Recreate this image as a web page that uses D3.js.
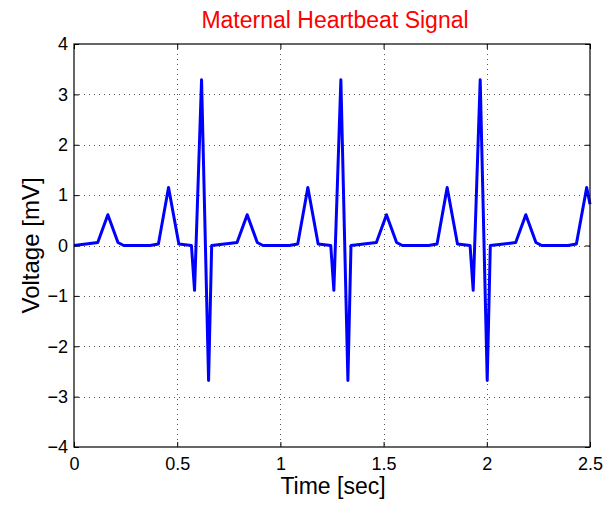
<!DOCTYPE html>
<html>
<head>
<meta charset="utf-8">
<script src="https://cdn.jsdelivr.net/npm/d3@7"></script>
<style>
  html, body { margin: 0; padding: 0; background: #fff; }
  svg { display: block; font-family: "Liberation Sans", Arial, sans-serif; }
</style>
</head>
<body>
<svg id="chart" width="605" height="505"></svg>
<script>
// vertices of the trace (seconds, mV)
const timeSec = [
  0, 0.115, 0.164, 0.213, 0.241, 0.291, 0.368,
  0.409, 0.458, 0.508, 0.569, 0.584, 0.618, 0.652, 0.667, 0.790, 0.839, 0.888, 0.916, 0.966, 1.043,
  1.084, 1.133, 1.183, 1.244, 1.259, 1.293, 1.327, 1.342, 1.465, 1.514, 1.563, 1.591, 1.641, 1.718,
  1.759, 1.808, 1.858, 1.919, 1.934, 1.968, 2.002, 2.017, 2.140, 2.189, 2.238, 2.266, 2.316, 2.393,
  2.434, 2.484, 2.5
];
const voltage = [
  0, 0.06, 0.61, 0.06, 0, 0, 0,
  0.03, 1.15, 0.03, 0, -0.89, 3.29, -2.68, 0, 0.06, 0.61, 0.06, 0, 0, 0,
  0.03, 1.15, 0.03, 0, -0.89, 3.29, -2.68, 0, 0.06, 0.61, 0.06, 0, 0, 0,
  0.03, 1.15, 0.03, 0, -0.89, 3.29, -2.68, 0, 0.06, 0.61, 0.06, 0, 0, 0,
  0.03, 1.15, 0.82
];
const xTicks = [0, 0.5, 1, 1.5, 2, 2.5];
const yTicks = [-4, -3, -2, -1, 0, 1, 2, 3, 4];

const margin = { top: 44, right: 15, bottom: 58, left: 74 };
const width = 605, height = 505;

const svg = d3.select('#chart');

const x = d3.scaleLinear().domain([0, 2.5]).range([margin.left, width - margin.right]);
const y = d3.scaleLinear().domain([-4, 4]).range([height - margin.bottom, margin.top]);

const fmt = v => String(v).replace('-', '\u2212');

// grid
const grid = svg.append('g')
  .attr('stroke', '#555')
  .attr('stroke-width', 1)
  .attr('stroke-dasharray', '1,4');
grid.selectAll('.gx').data(xTicks.slice(1, -1)).join('line')
  .attr('x1', d => Math.round(x(d)) + 0.5).attr('x2', d => Math.round(x(d)) + 0.5)
  .attr('y1', y(4)).attr('y2', y(-4));
grid.selectAll('.gy').data(yTicks.slice(1, -1)).join('line')
  .attr('y1', d => Math.round(y(d)) + 0.5).attr('y2', d => Math.round(y(d)) + 0.5)
  .attr('x1', x(0)).attr('x2', x(2.5));

// signal
const pts = timeSec.map((t, i) => [t, voltage[i]]);
svg.append('path')
  .datum(pts)
  .attr('fill', 'none')
  .attr('stroke', '#0000ff')
  .attr('stroke-width', 3)
  .attr('stroke-linejoin', 'round')
  .attr('d', d3.line().x(d => x(d[0])).y(d => y(d[1])));

// axes, inward ticks on all sides
const tickLen = 5;
svg.append('g')
  .attr('transform', `translate(0,${y(-4)})`)
  .call(d3.axisBottom(x).tickValues(xTicks).tickSizeInner(-tickLen).tickSizeOuter(0).tickPadding(10).tickFormat(fmt))
  .call(g => g.select('.domain').remove());
svg.append('g')
  .attr('transform', `translate(0,${y(4)})`)
  .call(d3.axisTop(x).tickValues(xTicks).tickSizeInner(-tickLen).tickSizeOuter(0).tickFormat(''))
  .call(g => g.select('.domain').remove());
svg.append('g')
  .attr('transform', `translate(${x(0)},0)`)
  .call(d3.axisLeft(y).tickValues(yTicks).tickSizeInner(-tickLen).tickSizeOuter(0).tickPadding(6).tickFormat(fmt))
  .call(g => g.select('.domain').remove());
svg.append('g')
  .attr('transform', `translate(${x(2.5)},0)`)
  .call(d3.axisRight(y).tickValues(yTicks).tickSizeInner(-tickLen).tickSizeOuter(0).tickFormat(''))
  .call(g => g.select('.domain').remove());

svg.selectAll('.tick line').attr('stroke', '#000');
svg.selectAll('.tick text')
  .attr('font-family', '"Liberation Sans", Arial, sans-serif')
  .attr('font-size', 18)
  .attr('fill', '#000');

// frame
svg.append('rect')
  .attr('x', x(0)).attr('y', y(4))
  .attr('width', x(2.5) - x(0)).attr('height', y(-4) - y(4))
  .attr('fill', 'none').attr('stroke', '#000').attr('stroke-width', 1.2);

// title and labels
svg.append('text')
  .attr('x', (x(0) + x(2.5)) / 2 + 3).attr('y', 28)
  .attr('text-anchor', 'middle')
  .attr('font-size', 23)
  .attr('fill', '#ff0000')
  .text('Maternal Heartbeat Signal');

svg.append('text')
  .attr('x', (x(0) + x(2.5)) / 2 + 1).attr('y', 494)
  .attr('text-anchor', 'middle')
  .attr('font-size', 23)
  .attr('fill', '#000')
  .text('Time [sec]');

svg.append('text')
  .attr('transform', `translate(39,${(y(4) + y(-4)) / 2}) rotate(-90)`)
  .attr('text-anchor', 'middle')
  .attr('font-size', 24)
  .attr('fill', '#000')
  .text('Voltage [mV]');
</script>
</body>
</html>
